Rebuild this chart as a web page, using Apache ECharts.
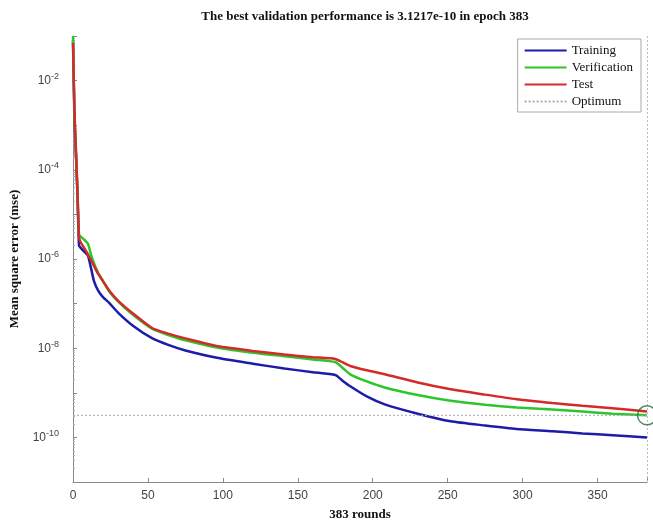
<!DOCTYPE html>
<html>
<head>
<meta charset="utf-8">
<script src="https://cdn.jsdelivr.net/npm/echarts@6/dist/echarts.min.js"></script>
<style>
  html, body { margin: 0; padding: 0; background: #fff; }
  #perf { width: 653px; height: 526px; }
</style>
</head>
<body>
<div id="perf"></div>
<script>
var epochs = [0, 1, 2, 3, 4, 5, 8, 10, 12, 14, 17, 20, 24, 30, 40, 53, 64, 75, 97, 120, 141, 160, 175, 180, 185, 196, 208, 230, 252, 275, 296, 320, 340, 360, 383];

var training = [8e-2, 1.3e-3, 2e-4, 2.5e-5, 2e-6, 1.8e-6, 1.4e-6, 1.2e-6, 6.3e-7, 3.2e-7, 1.9e-7, 1.4e-7, 1.05e-7, 6.3e-8, 3.2e-8, 1.66e-8, 1.17e-8,
    8.9e-9, 6e-9, 4.5e-9, 3.5e-9, 2.9e-9, 2.5e-9, 1.85e-9, 1.4e-9, 8.3e-10, 5.5e-10, 3.4e-10, 2.3e-10, 1.85e-10, 1.55e-10, 1.38e-10, 1.23e-10, 1.12e-10, 1.0e-10];

var verification = [1e-1, 1.6e-3, 2.5e-4, 3.2e-5, 3.5e-6, 3.2e-6, 2.6e-6, 2.2e-6, 1.26e-6, 8e-7, 4.7e-7, 3.2e-7, 1.9e-7, 1.12e-7, 5.6e-8, 2.7e-8, 1.95e-8,
    1.5e-8, 1.02e-8, 7.9e-9, 6.6e-9, 5.6e-9, 4.9e-9, 3.6e-9, 2.6e-9, 1.8e-9, 1.32e-9, 8.9e-10, 6.6e-10, 5.4e-10, 4.7e-10, 4.2e-10, 3.8e-10, 3.4e-10, 3.1217e-10];

var test = [7e-2, 2e-3, 2.5e-4, 3.2e-5, 3.2e-6, 2.4e-6, 1.66e-6, 1.26e-6, 9.5e-7, 7e-7, 4.5e-7, 3.2e-7, 2e-7, 1.17e-7, 6e-8, 2.8e-8, 2.1e-8,
    1.66e-8, 1.1e-8, 8.7e-9, 7.2e-9, 6.3e-9, 5.75e-9, 4.8e-9, 4e-9, 3.2e-9, 2.6e-9, 1.7e-9, 1.2e-9, 9.1e-10, 7.2e-10, 5.9e-10, 5.1e-10, 4.5e-10, 3.8e-10];

var bestEpoch = 383;
var bestPerf = 3.1217e-10;
var xTicks = [0, 50, 100, 150, 200, 250, 300, 350];

function pairs(vals) {
    var out = [];
    for (let i = 0; i < epochs.length; i++) {
        out.push([epochs[i], vals[i]]);
    }
    return out;
}

var serif = 'Liberation Serif';
var sans = 'Liberation Sans';

function curve(name, color, vals) {
    return {
        name: name, type: 'line', symbol: 'none',
        smooth: 0.2,
        lineStyle: { width: 2.5, color: color }, itemStyle: { color: color },
        data: pairs(vals)
    };
}

var opts = {
    animation: false,
    title: {
        text: 'The best validation performance is ' + bestPerf + ' in epoch ' + bestEpoch,
        left: 360,
        textAlign: 'center',
        top: 5,
        textStyle: { fontFamily: serif, fontSize: 13, fontWeight: 'bold', color: '#111' }
    },
    legend: {
        orient: 'vertical',
        right: 12,
        top: 39,
        itemWidth: 42,
        itemHeight: 10,
        itemGap: 4,
        padding: [5, 8, 4, 6],
        borderColor: '#aaa',
        borderWidth: 1,
        backgroundColor: '#fff',
        itemStyle: { opacity: 0 },
        textStyle: { fontFamily: serif, fontSize: 13, color: '#111' },
        data: ['Training', 'Verification', 'Test', 'Optimum']
    },
    grid: { left: 70, right: 6, top: 36, bottom: 41 },
    xAxis: {
        type: 'value',
        min: 0,
        max: 383,
        interval: 50,
        name: bestEpoch + ' rounds',
        nameLocation: 'middle',
        nameGap: 26,
        nameTextStyle: { fontFamily: serif, fontSize: 13, fontWeight: 'bold', color: '#111' },
        axisLine: { lineStyle: { color: '#888' } },
        axisTick: { inside: true, length: 4, lineStyle: { color: '#888' } },
        axisLabel: {
            fontFamily: sans, fontSize: 12, color: '#444', margin: 8,
            formatter: function (v) { return xTicks.indexOf(v) >= 0 ? String(v) : ''; }
        },
        splitLine: { show: false }
    },
    yAxis: {
        type: 'log',
        logBase: 10,
        min: 1e-11,
        max: 1e-1,
        interval: 1,
        name: 'Mean square error (mse)',
        nameLocation: 'middle',
        nameGap: 52,
        nameTextStyle: { fontFamily: serif, fontSize: 13, fontWeight: 'bold', color: '#111' },
        axisLine: { show: true, lineStyle: { color: '#888' } },
        axisTick: { show: true, inside: true, length: 4, lineStyle: { color: '#888' } },
        minorTick: { show: true, splitNumber: 9, length: 2, lineStyle: { color: '#aaa' } },
        axisLabel: {
            margin: 14,
            formatter: function (v) {
                var e = Math.round(Math.log10(v));
                if (e % 2 !== 0) return '';
                return '{b|10}{s|' + e + '}';
            },
            rich: {
                b: { fontFamily: sans, fontSize: 12, color: '#444' },
                s: { fontFamily: sans, fontSize: 9, color: '#444', verticalAlign: 'top', padding: [0, 0, 8, 0] }
            }
        },
        splitLine: { show: false }
    },
    series: [
        curve('Training', '#1c1ca8', training),
        curve('Verification', '#2cc62c', verification),
        curve('Test', '#d42a2a', test),
        {
            name: 'Optimum', type: 'line', symbol: 'none',
            lineStyle: { width: 1, color: '#aaa', type: [2, 2] }, itemStyle: { color: '#aaa' },
            data: [[0, bestPerf], [bestEpoch, bestPerf]],
            markLine: {
                silent: true, symbol: 'none', label: { show: false },
                lineStyle: { width: 1, color: '#bbb', type: [2, 2] },
                data: [{ xAxis: bestEpoch }]
            }
        },
        {
            name: 'best', type: 'scatter', symbol: 'circle', symbolSize: 19,
            clip: false,
            itemStyle: { color: 'rgba(0,0,0,0)', borderColor: '#2d6a3a', borderWidth: 1.5 },
            z: 5,
            data: [[bestEpoch, bestPerf]]
        }
    ]
};

echarts.init(document.getElementById('perf')).setOption(opts);
</script>
</body>
</html>
